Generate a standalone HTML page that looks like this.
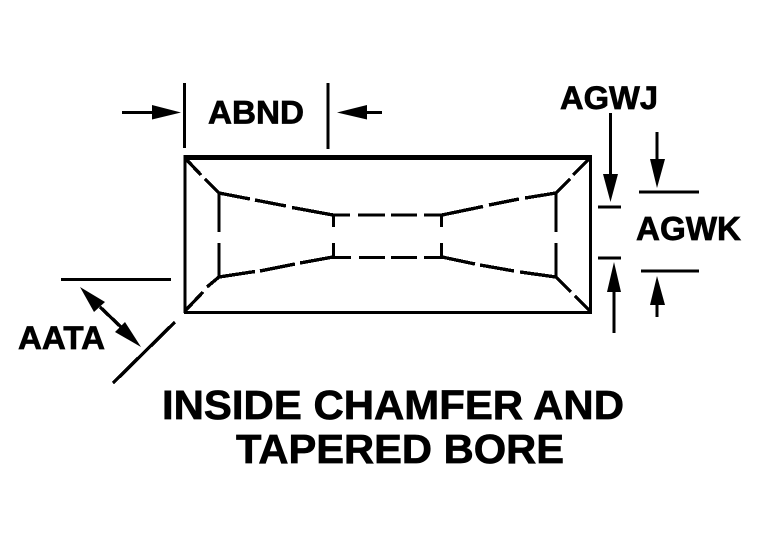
<!DOCTYPE html>
<html>
<head>
<meta charset="utf-8">
<style>
html,body{margin:0;padding:0;background:#fff;width:765px;height:536px;overflow:hidden}
svg{display:block}
text{font-family:"Liberation Sans",Arial,sans-serif;font-weight:bold;fill:#000;stroke:#000;stroke-width:.7px}
</style>
</head>
<body>
<svg width="765" height="536" viewBox="0 0 765 536" xmlns="http://www.w3.org/2000/svg" shape-rendering="crispEdges">
<rect width="765" height="536" fill="#fff"/>
<g stroke="#000" fill="none" stroke-width="3">
  <!-- outer box -->
  <path d="M185 157V313M590.5 157V313M184 312.5H592"/>
  <path d="M183.5 157.5H592" stroke-width="5"/>
  <!-- inner verticals -->
  <path d="M219 193V232M219 243V277M556 193V232M556 243V277"/>
  <path d="M333.5 215V227M333.5 243V257M441.5 215V227M441.5 243V257"/>
  <!-- bore -->
  <path d="M333 215H350M358 215H385M391 215H417M424 215H442"/>
  <path d="M333 257.500H351M359 257.500H385M391 257.500H417M424 257.500H442"/>
  <!-- ABND -->
  <path d="M184.500 83V148M328 83V149M122 112.500H155M364 112.500H382"/>
  <!-- AGWJ / AGWK -->
  <path d="M610.500 113V178M598 207H621M598 258H621M614 288V333"/>
  <path d="M657 132V163M639 192H699M641 271H699M657 301V317"/>
  <path d="M61 279.500H171"/>
</g>
<g stroke="#000" fill="none" stroke-width="3.4">
  <!-- corners -->
  <path d="M185 158L201 175M205 179L219 193M590 158L573 175M570 179L556 193"/>
  <path d="M185 311L203 292M207 287L219 277M590 311L575 296M571 292L556 277"/>
  <!-- tapers -->
  <path d="M219 193L250 199M255 200L286 206M292 207.500L333 215"/>
  <path d="M219 277L255 271.500M260 271L295 264M300 263L333 257"/>
  <path d="M442 215L483 206.500M489 205L519 199M525 198L556 193"/>
  <path d="M442 257L475 264M480 265L514 271M520 272L556 277"/>
  <!-- AATA -->
  <path d="M113 383L175 322M100 307L121 327"/>
</g>
<g fill="#000" stroke="none" shape-rendering="auto">
  <polygon points="181,112.500 152,105 152,119.500"/>
  <polygon points="337,112.500 367,105 367,119.500"/>
  <polygon points="610.500,202 603,174 618,174"/>
  <polygon points="614,262 607,292 621,292"/>
  <polygon points="657,188 650,159 665,159"/>
  <polygon points="657,276 650,305 665,305"/>
  <polygon points="80,287 105,302 94,312"/>
  <polygon points="141,347 125,322 115,332"/>
</g>
<text x="208" y="123.500" font-size="32" textLength="96" lengthAdjust="spacingAndGlyphs">ABND</text>
<text x="560" y="109" font-size="32" textLength="98" lengthAdjust="spacingAndGlyphs">AGWJ</text>
<text x="636" y="240" font-size="33" textLength="105" lengthAdjust="spacingAndGlyphs">AGWK</text>
<text x="18" y="349" font-size="32" textLength="87" lengthAdjust="spacingAndGlyphs">AATA</text>
<text x="162" y="419" font-size="41" textLength="462" lengthAdjust="spacingAndGlyphs">INSIDE CHAMFER AND</text>
<text x="236" y="463" font-size="41" textLength="328" lengthAdjust="spacingAndGlyphs">TAPERED BORE</text>
</svg>
</body>
</html>
